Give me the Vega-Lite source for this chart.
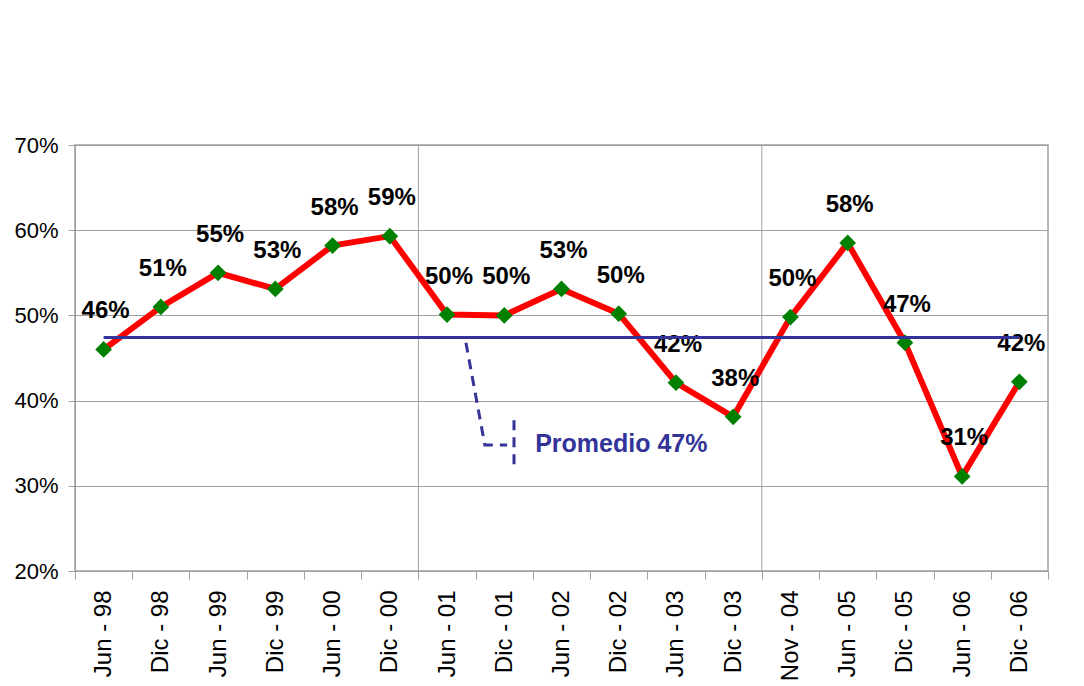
{
  "$schema": "https://vega.github.io/schema/vega-lite/v6.json",
  "autosize": {"type": "none"},
  "padding": {"left": 75, "top": 145, "right": 36, "bottom": 115},
  "width": 973,
  "height": 426,
  "background": "white",
  "config": {
    "view": {"stroke": "#a0a0a0", "strokeWidth": 1.5},
    "font": "Liberation Sans"
  },
  "datasets": {
    "main": [
      {"periodo": "Jun - 98", "valor": 0.460, "etiqueta": "46%"},
      {"periodo": "Dic - 98", "valor": 0.510, "etiqueta": "51%"},
      {"periodo": "Jun - 99", "valor": 0.550, "etiqueta": "55%"},
      {"periodo": "Dic - 99", "valor": 0.531, "etiqueta": "53%"},
      {"periodo": "Jun - 00", "valor": 0.582, "etiqueta": "58%"},
      {"periodo": "Dic - 00", "valor": 0.593, "etiqueta": "59%"},
      {"periodo": "Jun - 01", "valor": 0.501, "etiqueta": "50%"},
      {"periodo": "Dic - 01", "valor": 0.500, "etiqueta": "50%"},
      {"periodo": "Jun - 02", "valor": 0.531, "etiqueta": "53%"},
      {"periodo": "Dic - 02", "valor": 0.502, "etiqueta": "50%"},
      {"periodo": "Jun - 03", "valor": 0.421, "etiqueta": "42%"},
      {"periodo": "Dic - 03", "valor": 0.381, "etiqueta": "38%"},
      {"periodo": "Nov - 04", "valor": 0.498, "etiqueta": "50%"},
      {"periodo": "Jun - 05", "valor": 0.585, "etiqueta": "58%"},
      {"periodo": "Dic - 05", "valor": 0.468, "etiqueta": "47%"},
      {"periodo": "Jun - 06", "valor": 0.311, "etiqueta": "31%"},
      {"periodo": "Dic - 06", "valor": 0.422, "etiqueta": "42%"}
    ],
    "sepLines": [{"pos": 6}, {"pos": 12}],
    "promedio": [{"x1": 0.5, "x2": 16.5, "valor": 0.474}],
    "callout": [
      {"orden": 1, "px": 6.83, "py": 0.468},
      {"orden": 2, "px": 7.16, "py": 0.348},
      {"orden": 3, "px": 7.55, "py": 0.348}
    ],
    "calloutBar": [{"px": 7.67, "py1": 0.377, "py2": 0.319}],
    "calloutText": [{"px": 8.04, "py": 0.349, "texto": "Promedio 47%"}]
  },
  "resolve": {"scale": {"x": "independent"}},
  "layer": [
    {
      "data": {"name": "sepLines"},
      "mark": {"type": "rule", "color": "#a0a0a0", "strokeWidth": 1},
      "encoding": {
        "x": {"field": "pos", "type": "quantitative", "scale": {"domain": [0, 17], "nice": false, "zero": false}, "axis": null}
      }
    },
    {
      "data": {"name": "main"},
      "layer": [
        {
          "mark": {"type": "line", "color": "#ff0000", "strokeWidth": 6},
          "encoding": {
            "x": {
              "field": "periodo", "type": "nominal", "sort": null,
              "scale": {"paddingInner": 0, "paddingOuter": 0},
              "axis": {
                "title": null, "labelAngle": -90, "labelAlign": "right", "labelBaseline": "middle",
                "labelFontSize": 24, "labelColor": "black", "labelPadding": 11,
                "tickBand": "extent", "tickSize": 8, "tickColor": "#a0a0a0",
                "domainColor": "#a0a0a0", "grid": false
              }
            },
            "y": {
              "field": "valor", "type": "quantitative",
              "scale": {"domain": [0.2, 0.7], "nice": false, "zero": false},
              "axis": {
                "title": null, "format": ".0%", "values": [0.2, 0.3, 0.4, 0.5, 0.6, 0.7],
                "labelFontSize": 22, "labelColor": "black", "labelPadding": 10,
                "tickSize": 7, "tickColor": "#a0a0a0", "domainColor": "#a0a0a0",
                "grid": true, "gridColor": "#a0a0a0", "gridWidth": 1
              }
            }
          }
        },
        {
          "mark": {"type": "point", "shape": "diamond", "filled": true, "color": "#008000", "size": 280, "opacity": 1},
          "encoding": {
            "x": {"field": "periodo", "type": "nominal", "sort": null},
            "y": {"field": "valor", "type": "quantitative"}
          }
        },
        {
          "mark": {"type": "text", "fontSize": 24, "fontWeight": "bold", "color": "black", "dy": -38, "dx": 2, "baseline": "middle", "align": "center"},
          "encoding": {
            "x": {"field": "periodo", "type": "nominal", "sort": null},
            "y": {"field": "valor", "type": "quantitative"},
            "text": {"field": "etiqueta"}
          }
        }
      ]
    },
    {
      "data": {"name": "promedio"},
      "mark": {"type": "rule", "color": "#333399", "strokeWidth": 3},
      "encoding": {
        "x": {"field": "x1", "type": "quantitative", "scale": {"domain": [0, 17], "nice": false, "zero": false}, "axis": null},
        "x2": {"field": "x2"},
        "y": {"field": "valor", "type": "quantitative"}
      }
    },
    {
      "data": {"name": "callout"},
      "mark": {"type": "line", "color": "#333399", "strokeWidth": 3, "strokeDash": [10, 7]},
      "encoding": {
        "x": {"field": "px", "type": "quantitative", "scale": {"domain": [0, 17], "nice": false, "zero": false}, "axis": null},
        "y": {"field": "py", "type": "quantitative"},
        "order": {"field": "orden"}
      }
    },
    {
      "data": {"name": "calloutBar"},
      "mark": {"type": "rule", "color": "#333399", "strokeWidth": 3, "strokeDash": [10, 7]},
      "encoding": {
        "x": {"field": "px", "type": "quantitative", "scale": {"domain": [0, 17], "nice": false, "zero": false}, "axis": null},
        "y": {"field": "py1", "type": "quantitative"},
        "y2": {"field": "py2"}
      }
    },
    {
      "data": {"name": "calloutText"},
      "mark": {"type": "text", "fontSize": 25, "fontWeight": "bold", "color": "#333399", "align": "left", "baseline": "middle"},
      "encoding": {
        "x": {"field": "px", "type": "quantitative", "scale": {"domain": [0, 17], "nice": false, "zero": false}, "axis": null},
        "y": {"field": "py", "type": "quantitative"},
        "text": {"field": "texto"}
      }
    }
  ]
}
